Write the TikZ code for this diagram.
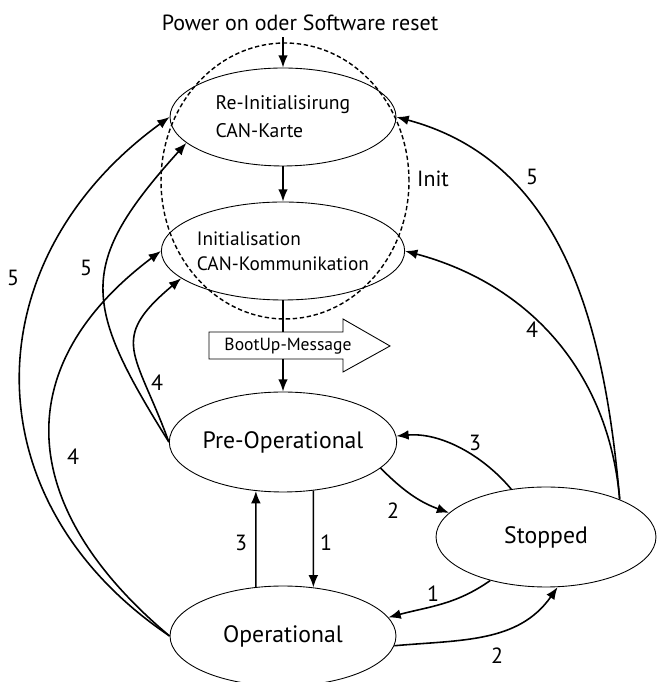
\documentclass[tikz,border=0pt]{standalone}
\usepackage{fontspec}
\setmainfont{PT Sans}
\usetikzlibrary{arrows.meta,shapes.geometric}

\begin{document}
\begin{tikzpicture}[x=0.02cm,y=0.02cm,
  state/.style={draw,ellipse,line width=0.5pt,inner sep=0pt,minimum width=4.52cm,minimum height=1.96cm},
  bigtxt/.style={font=\fontsize{13.5}{16}\selectfont},
  medtxt/.style={font=\fontsize{12.5}{16}\selectfont},
  smalltxt/.style={font=\fontsize{11}{14}\selectfont},
  arr/.style={-{Latex[length=7pt,width=5.5pt]},line width=0.9pt},
  lbl/.style={medtxt,inner sep=0pt}]
\useasboundingbox (0,0) rectangle (657,682);

 \node[draw,ellipse,dashed,line width=0.8pt,dash pattern=on 2.5pt off 1.5pt,minimum width=4.96cm,minimum height=5.52cm] (initzone) at (285,501) {};
 \node[medtxt] (initlbl) at (433,503) {Init};
 \node[medtxt] (power) at (300,659) {Power on oder Software reset};

 \node[state,font=\fontsize{11.2}{16}\selectfont,align=left] (reinit) at (283,565) {Re-Initialisirung\\CAN-Karte};
 \node[state,smalltxt,align=left] (init) at (283,431) {Initialisation\\CAN-Kommunikation};
 \node[state,bigtxt,minimum height=2cm] (preop) at (283,240) {Pre-Operational};
 \node[state,bigtxt,minimum height=2cm] (op) at (283,46) {Operational};
 \node[state,bigtxt,minimum width=4.4cm,minimum height=2cm] (stopped) at (546,145) {Stopped};

 \draw[line width=0.5pt] (209,323)--(209,350)--(343,350)--(343,363)--(390,336)--(343,310)--(343,323)--cycle;
 \node[font=\fontsize{10}{12}\selectfont,inner sep=0pt] (boot) at (288,336) {BootUp-Message};
 \coordinate (bootin) at (283,350);
 \coordinate (bootout) at (283,323);

 \draw[arr] (power.south -| reinit.north) -- (reinit.north);
 \draw[arr] (reinit) -- (init);
 \draw[line width=0.9pt] (init) -- (bootin);
 \draw[arr] (bootout) -- (preop);

 \draw[arr] (preop.-58) -- (op.58);
 \draw[arr] (op.119) -- (preop.-119);
 \draw[arr] (preop.-15) to[out=-45,in=160] (stopped.166);
 \draw[arr] (stopped.126) to[out=130,in=5,looseness=0.9] (preop.3);
 \draw[arr] (stopped.-142) to[out=215,in=15] (op.10);
 \draw[arr] (op.-5) to[out=5,in=-125] (stopped.-77);

 \draw[arr] (op.west) to[out=146,in=216,looseness=1.2] (reinit.west);
 \draw[arr] (op.west) to[out=140,in=217,looseness=1.3] (init.west);
 \draw[arr] (preop.west) to[out=122,in=228,looseness=1.4] (reinit.195);
 \draw[arr] (preop.west) to[out=110,in=220,looseness=1.5] (init.195);

 \draw[arr] (stopped.27) to[out=95,in=-15] (reinit.east);
 \draw[arr] (stopped.27) to[out=95,in=-15] (init.east);

 \foreach \px/\py/\t [count=\i] in {13/404/5,86/414/5,157/299/4,73/225/4,532/505/5,532/352/4,
   475/239/3,393/171/2,326/139/1,241/139/3,433/88/1,497/26/2}
 {
  \node[lbl] (num\i) at (\px,\py) {\t};
 }
\end{tikzpicture}
\end{document}
